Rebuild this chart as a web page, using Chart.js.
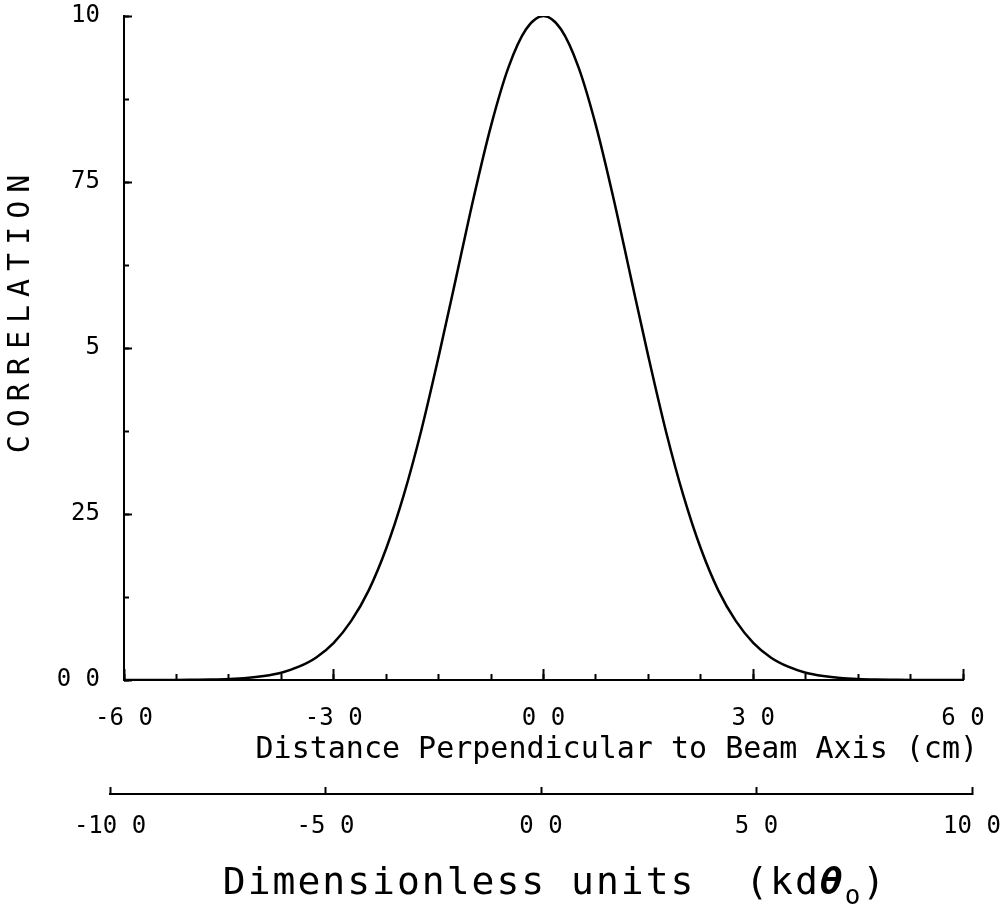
<!DOCTYPE html>
<html>
<head>
<meta charset="utf-8">
<title>Correlation vs distance</title>
<script src="https://cdn.jsdelivr.net/npm/chart.js@4.4.0/dist/chart.umd.min.js"></script>
<style>
  body { margin: 0; background: #fff; }
  #wrap { width: 1000px; height: 908px; }
</style>
</head>
<body>
<div id="wrap"><canvas id="corrChart"></canvas></div>
<script>
// values (cm from beam axis, correlation)
var distance = [-60, -57.5, -55, -52.5, -50, -47.5, -45, -42.5, -40, -37.5, -35, -32.5,
  -30, -27.5, -25, -22.5, -20, -17.5, -15, -12.5, -10, -7.5, -5, -2.5, 0,
  2.5, 5, 7.5, 10, 12.5, 15, 17.5, 20, 22.5, 25, 27.5, 30, 32.5, 35, 37.5,
  40, 42.5, 45, 47.5, 50, 52.5, 55, 57.5, 60];
var correlation = [0, 0, 0, 0, 0.0003, 0.0007, 0.0015, 0.003, 0.006, 0.011, 0.020, 0.034,
  0.056, 0.089, 0.135, 0.198, 0.278, 0.375, 0.487, 0.606, 0.726, 0.835, 0.923, 0.980, 1.0,
  0.980, 0.923, 0.835, 0.726, 0.606, 0.487, 0.375, 0.278, 0.198, 0.135, 0.089, 0.056, 0.034, 0.020, 0.011,
  0.006, 0.003, 0.0015, 0.0007, 0.0003, 0, 0, 0, 0];

var xTickLabels = ['-6 0', '-3 0', '0 0', '3 0', '6 0'];
var yTickLabels = ['0 0', '25', '5', '75', '10'];
var unitTickLabels = ['-10 0', '-5 0', '0 0', '5 0', '10 0'];

var xTitle = 'Distance Perpendicular to Beam Axis (cm)';
var yTitle = 'CORRELATION';
var unitTitle = ['Dimensionless units  (kd', '\u03b8', 'o', ')'];

var MONO = '"DejaVu Sans Mono", "Liberation Mono", monospace';
Chart.defaults.font.family = MONO;
Chart.defaults.color = '#000';

var tickFont = { family: MONO, size: 24 };

// label padding is handled by the fixed layout, so drop the extra room chart.js reserves
function noPad(s) {
  s.paddingTop = s.paddingBottom = s.paddingLeft = s.paddingRight = 0;
}

// tick-only scales take no room, they just draw inward ticks on the axes
function tickScale(pos, step, len, min, max) {
  return {
    type: 'linear', position: pos, min: min, max: max, weight: 0,
    ticks: { display: false, stepSize: step, maxTicksLimit: 100 },
    grid: { drawOnChartArea: false, tickLength: -len, tickWidth: 2, tickColor: '#000' },
    border: { display: false },
    afterFit: function (s) {
      if (pos === 'left') s.width = 0; else s.height = 0;
      noPad(s);
    }
  };
}

var axisTitles = {
  id: 'axisTitles',
  afterLayout: function (chart) {
    // second (dimensionless) axis is a little wider than the plot
    var s = chart.scales.x2, a = chart.chartArea;
    s.left = a.left - 14;
    s.right = a.right + 9;
    s.width = s.right - s.left;
    s.configure();
  },
  afterDraw: function (chart) {
    var ctx = chart.ctx;
    ctx.save();
    ctx.fillStyle = '#000';

    // y title, rotated
    ctx.save();
    ctx.translate(21, 310);
    ctx.rotate(-Math.PI / 2);
    ctx.font = '30px ' + MONO;
    ctx.letterSpacing = '8px';
    ctx.textAlign = 'center';
    ctx.textBaseline = 'middle';
    ctx.fillText(yTitle, 0, 0);
    ctx.restore();

    // x title
    ctx.font = '30px ' + MONO;
    ctx.textAlign = 'right';
    ctx.textBaseline = 'alphabetic';
    ctx.fillText(xTitle, 978, 758);

    // dimensionless title with theta and subscript
    ctx.letterSpacing = '2px';
    var fonts = ['38px ' + MONO, 'italic bold 38px ' + MONO, '26px ' + MONO, '38px ' + MONO];
    var dy = [0, 0, 10, 0];
    var widths = unitTitle.map(function (t, i) { ctx.font = fonts[i]; return ctx.measureText(t).width; });
    var total = widths.reduce(function (p, c) { return p + c; }, 0);
    var x = 555 - total / 2;
    ctx.textAlign = 'left';
    unitTitle.forEach(function (t, i) {
      ctx.font = fonts[i];
      ctx.fillText(t, x, 894 + dy[i]);
      x += widths[i];
    });
    ctx.restore();
  }
};

var ctx = document.getElementById('corrChart').getContext('2d');
var corrChart = new Chart(ctx, {
  type: 'line',
  data: {
    datasets: [{
      data: distance.map(function (d, i) { return { x: d, y: correlation[i] }; }),
      borderColor: '#000',
      borderWidth: 2.5,
      pointRadius: 0,
      fill: false,
      cubicInterpolationMode: 'monotone'
    }]
  },
  options: {
    responsive: true,
    maintainAspectRatio: false,
    animation: false,
    layout: { padding: { top: 16, right: 37, left: 0, bottom: 0 } },
    plugins: { legend: { display: false }, tooltip: { enabled: false } },
    scales: {
      x: {
        type: 'linear', position: 'bottom', min: -60, max: 60, weight: 1,
        ticks: {
          stepSize: 30, maxRotation: 0, padding: 24, font: tickFont,
          callback: function (v, i) { return xTickLabels[i]; }
        },
        grid: { drawOnChartArea: false, drawTicks: false },
        border: { color: '#000', width: 2 },
        afterFit: function (s) { s.height = 114; noPad(s); }
      },
      xMajor: tickScale('bottom', 30, 11, -60, 60),
      xMinor: tickScale('bottom', 7.5, 6, -60, 60),
      x2: {
        type: 'linear', position: 'bottom', min: -100, max: 100, weight: 2,
        ticks: {
          stepSize: 50, maxRotation: 0, padding: 25, font: tickFont,
          callback: function (v, i) { return unitTickLabels[i]; }
        },
        grid: { drawOnChartArea: false, tickLength: -7, tickWidth: 2, tickColor: '#000' },
        border: { color: '#000', width: 2 },
        afterFit: function (s) { s.height = 114; noPad(s); }
      },
      y: {
        type: 'linear', position: 'left', min: 0, max: 1, weight: 1,
        ticks: {
          stepSize: 0.25, padding: 24, font: tickFont,
          callback: function (v, i) { return yTickLabels[i]; }
        },
        grid: { drawOnChartArea: false, drawTicks: false },
        border: { color: '#000', width: 2 },
        afterFit: function (s) { s.width = 124; noPad(s); }
      },
      yMajor: tickScale('left', 0.25, 8, 0, 1),
      yMinor: tickScale('left', 0.125, 5, 0, 1)
    }
  },
  plugins: [axisTitles]
});
</script>
</body>
</html>
